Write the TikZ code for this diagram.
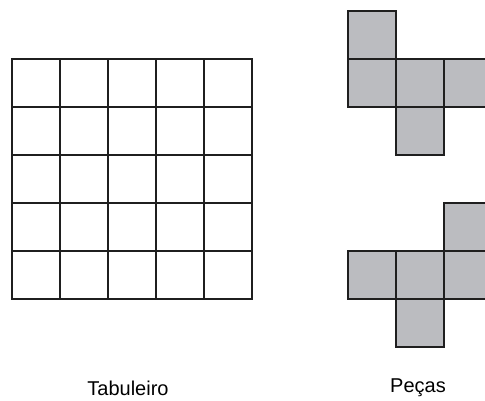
\documentclass[tikz,border=0pt]{standalone}
\usepackage{fontspec}
\setmainfont{Liberation Sans}
\begin{document}
\begin{tikzpicture}[x=1pt,y=-1pt,
  gridline/.style={line width=2pt,draw=black!88},
  piece/.style={line width=2pt,draw=black!88,fill=piecegray},
  lbl/.style={font=\fontsize{20}{22}\selectfont,inner sep=0pt}]
\definecolor{piecegray}{HTML}{BBBCC0}
\useasboundingbox (0,0) rectangle (485,400);
\clip (0,0) rectangle (485,400);
% board
\foreach \i in {0,...,5} {
  \draw[gridline] (12+48*\i,59) -- (12+48*\i,299);
  \draw[gridline] (12,59+48*\i) -- (252,59+48*\i);
}
\draw[gridline] (12,59) rectangle (252,299);
% piece 1
\foreach \x/\y in {348/11, 348/59, 396/59, 444/59, 396/107}
  \draw[piece] (\x,\y) rectangle ++(48,48);
% piece 2
\foreach \x/\y in {444/203, 348/251, 396/251, 444/251, 396/299}
  \draw[piece] (\x,\y) rectangle ++(48,48);
\node[lbl] (tab) at (128,388) {Tabuleiro};
\node[lbl] (pec) at (418,388) {Peças};
\end{tikzpicture}
\end{document}
